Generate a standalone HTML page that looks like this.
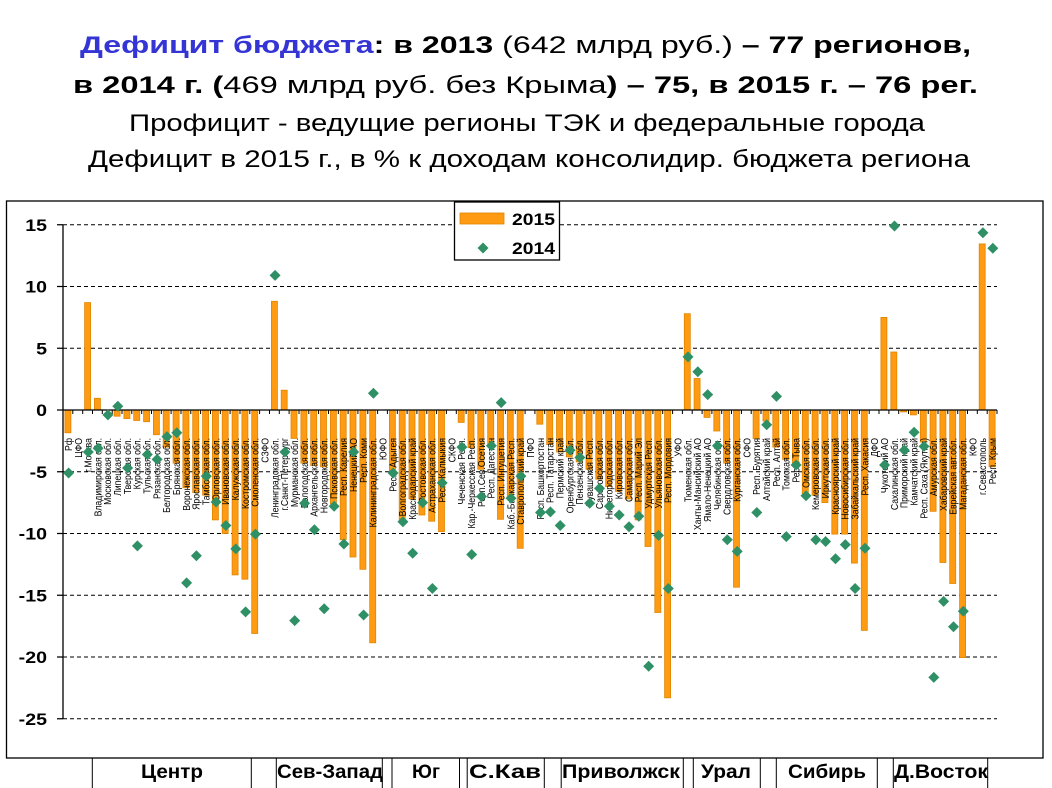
<!DOCTYPE html>
<html><head><meta charset="utf-8"><style>
html,body{margin:0;padding:0;background:#fff}
svg{display:block}
text{font-family:"Liberation Sans",Arial,sans-serif}
</style></head><body>
<svg width="1052" height="788" viewBox="0 0 1052 788" xmlns="http://www.w3.org/2000/svg">
<rect x="0" y="0" width="1052" height="788" fill="#fff"/>
<!-- Title -->
<text x="80" y="53" font-size="24" font-weight="bold" textLength="891" lengthAdjust="spacingAndGlyphs"><tspan fill="#3535D5">Дефицит бюджета</tspan>: в 2013 <tspan font-weight="normal">(642 млрд руб.)</tspan> – 77 регионов,</text>
<text x="73" y="93" font-size="24" font-weight="bold" textLength="905" lengthAdjust="spacingAndGlyphs">в 2014 г. (<tspan font-weight="normal">469 млрд руб. без Крыма</tspan>) – 75, в 2015 г. – 76 рег.</text>
<text x="129" y="131" font-size="24" textLength="796" lengthAdjust="spacingAndGlyphs">Профицит - ведущие регионы ТЭК и федеральные города</text>
<text x="88" y="167" font-size="24" textLength="882" lengthAdjust="spacingAndGlyphs">Дефицит в 2015 г., в % к доходам консолидир. бюджета региона</text>

<!-- Frame -->
<rect x="6.5" y="201" width="1036.5" height="557" fill="none" stroke="#000" stroke-width="1.3"/>

<!-- Gridlines -->
<g stroke="#000" stroke-width="1" stroke-dasharray="4 3">
<path d="M63 224.75H997M63 286.5H997M63 348.25H997M63 471.75H997M63 533.5H997M63 595.25H997M63 657H997M63 718.75H997"/>
</g>
<!-- Y ticks -->
<path d="M57 224.75H63M57 286.5H63M57 348.25H63M57 410H63M57 471.75H63M57 533.5H63M57 595.25H63M57 657H63M57 718.75H63" stroke="#000" stroke-width="1.2"/>
<!-- Y labels -->
<g font-size="17" font-weight="bold" text-anchor="end">
<text x="47" y="230.75" textLength="21.7" lengthAdjust="spacingAndGlyphs">15</text>
<text x="47" y="292.5" textLength="21.7" lengthAdjust="spacingAndGlyphs">10</text>
<text x="47" y="354.25" textLength="10.9" lengthAdjust="spacingAndGlyphs">5</text>
<text x="47" y="416" textLength="10.9" lengthAdjust="spacingAndGlyphs">0</text>
<text x="47" y="477.75" textLength="17.4" lengthAdjust="spacingAndGlyphs">-5</text>
<text x="47" y="539.5" textLength="28.3" lengthAdjust="spacingAndGlyphs">-10</text>
<text x="47" y="601.25" textLength="28.3" lengthAdjust="spacingAndGlyphs">-15</text>
<text x="47" y="663" textLength="28.3" lengthAdjust="spacingAndGlyphs">-20</text>
<text x="47" y="724.75" textLength="28.3" lengthAdjust="spacingAndGlyphs">-25</text>
</g>

<!-- Bars 2015 -->
<g fill="#FF9B12" stroke="#E08600" stroke-width="0.8">
<rect x="64.9" y="410" width="6" height="22.8"/>
<rect x="84.6" y="302.6" width="6" height="107.4"/>
<rect x="94.4" y="398.3" width="6" height="11.7"/>
<rect x="114.1" y="410" width="6" height="6.2"/>
<rect x="123.9" y="410" width="6" height="8.6"/>
<rect x="133.7" y="410" width="6" height="10.5"/>
<rect x="143.6" y="410" width="6" height="11.7"/>
<rect x="153.4" y="410" width="6" height="24.7"/>
<rect x="163.2" y="410" width="6" height="37.1"/>
<rect x="173.1" y="410" width="6" height="53.1"/>
<rect x="182.9" y="410" width="6" height="77.8"/>
<rect x="192.7" y="410" width="6" height="82.7"/>
<rect x="202.6" y="410" width="6" height="85.2"/>
<rect x="212.4" y="410" width="6" height="109.9"/>
<rect x="222.2" y="410" width="6" height="123.5"/>
<rect x="232.1" y="410" width="6" height="164.9"/>
<rect x="241.9" y="410" width="6" height="169.2"/>
<rect x="251.7" y="410" width="6" height="223.5"/>
<rect x="271.4" y="301.3" width="6" height="108.7"/>
<rect x="281.2" y="390.2" width="6" height="19.8"/>
<rect x="291.0" y="410" width="6" height="28.4"/>
<rect x="300.9" y="410" width="6" height="53.1"/>
<rect x="310.7" y="410" width="6" height="55.6"/>
<rect x="320.5" y="410" width="6" height="56.8"/>
<rect x="330.4" y="410" width="6" height="93.9"/>
<rect x="340.2" y="410" width="6" height="129.7"/>
<rect x="350.0" y="410" width="6" height="147.0"/>
<rect x="359.9" y="410" width="6" height="159.3"/>
<rect x="369.7" y="410" width="6" height="232.8"/>
<rect x="389.4" y="410" width="6" height="63.0"/>
<rect x="399.2" y="410" width="6" height="109.9"/>
<rect x="409.0" y="410" width="6" height="88.9"/>
<rect x="418.9" y="410" width="6" height="105.0"/>
<rect x="428.7" y="410" width="6" height="111.2"/>
<rect x="438.5" y="410" width="6" height="121.6"/>
<rect x="458.2" y="410" width="6" height="12.4"/>
<rect x="468.0" y="410" width="6" height="37.7"/>
<rect x="477.8" y="410" width="6" height="59.3"/>
<rect x="487.7" y="410" width="6" height="34.6"/>
<rect x="497.5" y="410" width="6" height="109.3"/>
<rect x="507.3" y="410" width="6" height="88.9"/>
<rect x="517.2" y="410" width="6" height="138.3"/>
<rect x="536.8" y="410" width="6" height="14.2"/>
<rect x="546.7" y="410" width="6" height="34.6"/>
<rect x="556.5" y="410" width="6" height="42.0"/>
<rect x="566.3" y="410" width="6" height="46.9"/>
<rect x="576.2" y="410" width="6" height="51.9"/>
<rect x="586.0" y="410" width="6" height="59.3"/>
<rect x="595.8" y="410" width="6" height="69.2"/>
<rect x="605.7" y="410" width="6" height="76.6"/>
<rect x="615.5" y="410" width="6" height="81.5"/>
<rect x="625.3" y="410" width="6" height="88.9"/>
<rect x="635.1" y="410" width="6" height="109.9"/>
<rect x="645.0" y="410" width="6" height="136.5"/>
<rect x="654.8" y="410" width="6" height="202.5"/>
<rect x="664.6" y="410" width="6" height="287.8"/>
<rect x="684.3" y="313.7" width="6" height="96.3"/>
<rect x="694.1" y="378.5" width="6" height="31.5"/>
<rect x="704.0" y="410" width="6" height="7.4"/>
<rect x="713.8" y="410" width="6" height="21.0"/>
<rect x="723.6" y="410" width="6" height="53.1"/>
<rect x="733.5" y="410" width="6" height="177.2"/>
<rect x="753.1" y="410" width="6" height="28.4"/>
<rect x="763.0" y="410" width="6" height="11.1"/>
<rect x="772.8" y="410" width="6" height="37.1"/>
<rect x="782.6" y="410" width="6" height="49.4"/>
<rect x="792.4" y="410" width="6" height="55.6"/>
<rect x="802.3" y="410" width="6" height="85.2"/>
<rect x="812.1" y="410" width="6" height="85.2"/>
<rect x="821.9" y="410" width="6" height="92.6"/>
<rect x="831.8" y="410" width="6" height="124.1"/>
<rect x="841.6" y="410" width="6" height="124.1"/>
<rect x="851.4" y="410" width="6" height="153.1"/>
<rect x="861.3" y="410" width="6" height="220.4"/>
<rect x="880.9" y="317.4" width="6" height="92.6"/>
<rect x="890.8" y="352.0" width="6" height="58.0"/>
<rect x="900.6" y="410" width="6" height="1.9"/>
<rect x="910.4" y="410" width="6" height="4.9"/>
<rect x="920.3" y="410" width="6" height="32.1"/>
<rect x="930.1" y="410" width="6" height="101.3"/>
<rect x="939.9" y="410" width="6" height="152.5"/>
<rect x="949.7" y="410" width="6" height="173.5"/>
<rect x="959.6" y="410" width="6" height="247.6"/>
<rect x="979.2" y="243.9" width="6" height="166.1"/>
<rect x="989.1" y="410" width="6" height="56.8"/>
</g>

<!-- Axes -->
<path d="M63 225V719" stroke="#000" stroke-width="1.3"/>
<path d="M63 410H997" stroke="#000" stroke-width="1.3"/>
<path stroke="#000" stroke-width="1" d="M63 410v4M72.8 410v4M82.7 410v4M92.5 410v4M102.3 410v4M112.2 410v4M122 410v4M131.8 410v4M141.7 410v4M151.5 410v4M161.3 410v4M171.1 410v4M181 410v4M190.8 410v4M200.6 410v4M210.5 410v4M220.3 410v4M230.1 410v4M240 410v4M249.8 410v4M259.6 410v4M269.5 410v4M279.3 410v4M289.1 410v4M299 410v4M308.8 410v4M318.6 410v4M328.5 410v4M338.3 410v4M348.1 410v4M357.9 410v4M367.8 410v4M377.6 410v4M387.4 410v4M397.3 410v4M407.1 410v4M416.9 410v4M426.8 410v4M436.6 410v4M446.4 410v4M456.3 410v4M466.1 410v4M475.9 410v4M485.8 410v4M495.6 410v4M505.4 410v4M515.3 410v4M525.1 410v4M534.9 410v4M544.7 410v4M554.6 410v4M564.4 410v4M574.2 410v4M584.1 410v4M593.9 410v4M603.7 410v4M613.6 410v4M623.4 410v4M633.2 410v4M643.1 410v4M652.9 410v4M662.7 410v4M672.6 410v4M682.4 410v4M692.2 410v4M702.1 410v4M711.9 410v4M721.7 410v4M731.5 410v4M741.4 410v4M751.2 410v4M761 410v4M770.9 410v4M780.7 410v4M790.5 410v4M800.4 410v4M810.2 410v4M820 410v4M829.9 410v4M839.7 410v4M849.5 410v4M859.4 410v4M869.2 410v4M879 410v4M888.9 410v4M898.7 410v4M908.5 410v4M918.3 410v4M928.2 410v4M938 410v4M947.8 410v4M957.7 410v4M967.5 410v4M977.3 410v4M987.2 410v4M997 410v4"/>

<!-- Category labels -->
<g font-size="8.7" text-anchor="end" fill="#000">
<text transform="translate(71.9 438) scale(1.13 1) rotate(-90)">Рф</text>
<text transform="translate(81.8 438) scale(1.13 1) rotate(-90)">ЦФО</text>
<text transform="translate(91.6 438) scale(1.13 1) rotate(-90)">г.Москва</text>
<text transform="translate(101.4 438) scale(1.13 1) rotate(-90)">Владимирская обл.</text>
<text transform="translate(111.2 438) scale(1.13 1) rotate(-90)">Московская обл.</text>
<text transform="translate(121.1 438) scale(1.13 1) rotate(-90)">Липецкая обл.</text>
<text transform="translate(130.9 438) scale(1.13 1) rotate(-90)">Тверская обл.</text>
<text transform="translate(140.7 438) scale(1.13 1) rotate(-90)">Курская обл.</text>
<text transform="translate(150.6 438) scale(1.13 1) rotate(-90)">Тульская обл.</text>
<text transform="translate(160.4 438) scale(1.13 1) rotate(-90)">Рязанская обл.</text>
<text transform="translate(170.2 438) scale(1.13 1) rotate(-90)">Белгородская обл.</text>
<text transform="translate(180.1 438) scale(1.13 1) rotate(-90)">Брянская обл.</text>
<text transform="translate(189.9 438) scale(1.13 1) rotate(-90)">Воронежская обл.</text>
<text transform="translate(199.7 438) scale(1.13 1) rotate(-90)">Ярославская обл.</text>
<text transform="translate(209.6 438) scale(1.13 1) rotate(-90)">Тамбовская обл.</text>
<text transform="translate(219.4 438) scale(1.13 1) rotate(-90)">Орловская обл.</text>
<text transform="translate(229.2 438) scale(1.13 1) rotate(-90)">Ивановская обл.</text>
<text transform="translate(239.1 438) scale(1.13 1) rotate(-90)">Калужская обл.</text>
<text transform="translate(248.9 438) scale(1.13 1) rotate(-90)">Костромская обл.</text>
<text transform="translate(258.7 438) scale(1.13 1) rotate(-90)">Смоленская обл.</text>
<text transform="translate(268.5 438) scale(1.13 1) rotate(-90)">СЗФО</text>
<text transform="translate(278.4 438) scale(1.13 1) rotate(-90)">Ленинградская обл.</text>
<text transform="translate(288.2 438) scale(1.13 1) rotate(-90)">г.Санкт-Петербург</text>
<text transform="translate(298.0 438) scale(1.13 1) rotate(-90)">Мурманская обл.</text>
<text transform="translate(307.9 438) scale(1.13 1) rotate(-90)">Вологодская обл.</text>
<text transform="translate(317.7 438) scale(1.13 1) rotate(-90)">Архангельская обл.</text>
<text transform="translate(327.5 438) scale(1.13 1) rotate(-90)">Новгородская обл.</text>
<text transform="translate(337.4 438) scale(1.13 1) rotate(-90)">Псковская обл.</text>
<text transform="translate(347.2 438) scale(1.13 1) rotate(-90)">Респ. Карелия</text>
<text transform="translate(357.0 438) scale(1.13 1) rotate(-90)">Ненецкий АО</text>
<text transform="translate(366.9 438) scale(1.13 1) rotate(-90)">Респ. Коми</text>
<text transform="translate(376.7 438) scale(1.13 1) rotate(-90)">Калининградская обл.</text>
<text transform="translate(386.5 438) scale(1.13 1) rotate(-90)">ЮФО</text>
<text transform="translate(396.4 438) scale(1.13 1) rotate(-90)">Респ. Адыгея</text>
<text transform="translate(406.2 438) scale(1.13 1) rotate(-90)">Волгоградская обл.</text>
<text transform="translate(416.0 438) scale(1.13 1) rotate(-90)">Краснодарский край</text>
<text transform="translate(425.9 438) scale(1.13 1) rotate(-90)">Ростовская обл.</text>
<text transform="translate(435.7 438) scale(1.13 1) rotate(-90)">Астраханская обл.</text>
<text transform="translate(445.5 438) scale(1.13 1) rotate(-90)">Респ. Калмыкия</text>
<text transform="translate(455.3 438) scale(1.13 1) rotate(-90)">СКФО</text>
<text transform="translate(465.2 438) scale(1.13 1) rotate(-90)">Чеченская Респ.</text>
<text transform="translate(475.0 438) scale(1.13 1) rotate(-90)">Кар.-Черкесская Респ.</text>
<text transform="translate(484.8 438) scale(1.13 1) rotate(-90)">Респ.Сев.Осетия</text>
<text transform="translate(494.7 438) scale(1.13 1) rotate(-90)">Респ. Дагестан</text>
<text transform="translate(504.5 438) scale(1.13 1) rotate(-90)">Респ. Ингушетия</text>
<text transform="translate(514.3 438) scale(1.13 1) rotate(-90)">Каб.-Балкарская Респ.</text>
<text transform="translate(524.2 438) scale(1.13 1) rotate(-90)">Ставропольский край</text>
<text transform="translate(534.0 438) scale(1.13 1) rotate(-90)">ПФО</text>
<text transform="translate(543.8 438) scale(1.13 1) rotate(-90)">Респ. Башкортостан</text>
<text transform="translate(553.7 438) scale(1.13 1) rotate(-90)">Респ. Татарстан</text>
<text transform="translate(563.5 438) scale(1.13 1) rotate(-90)">Пермский край</text>
<text transform="translate(573.3 438) scale(1.13 1) rotate(-90)">Оренбургская обл.</text>
<text transform="translate(583.2 438) scale(1.13 1) rotate(-90)">Пензенская обл.</text>
<text transform="translate(593.0 438) scale(1.13 1) rotate(-90)">Чувашская Респ.</text>
<text transform="translate(602.8 438) scale(1.13 1) rotate(-90)">Саратовская обл.</text>
<text transform="translate(612.7 438) scale(1.13 1) rotate(-90)">Нижегородская обл.</text>
<text transform="translate(622.5 438) scale(1.13 1) rotate(-90)">Кировская обл.</text>
<text transform="translate(632.3 438) scale(1.13 1) rotate(-90)">Самарская обл.</text>
<text transform="translate(642.1 438) scale(1.13 1) rotate(-90)">Респ. Марий Эл</text>
<text transform="translate(652.0 438) scale(1.13 1) rotate(-90)">Удмуртская Респ.</text>
<text transform="translate(661.8 438) scale(1.13 1) rotate(-90)">Ульяновская обл.</text>
<text transform="translate(671.6 438) scale(1.13 1) rotate(-90)">Респ. Мордовия</text>
<text transform="translate(681.5 438) scale(1.13 1) rotate(-90)">УФО</text>
<text transform="translate(691.3 438) scale(1.13 1) rotate(-90)">Тюменская обл.</text>
<text transform="translate(701.1 438) scale(1.13 1) rotate(-90)">Ханты-Мансийский АО</text>
<text transform="translate(711.0 438) scale(1.13 1) rotate(-90)">Ямало-Ненецкий АО</text>
<text transform="translate(720.8 438) scale(1.13 1) rotate(-90)">Челябинская обл.</text>
<text transform="translate(730.6 438) scale(1.13 1) rotate(-90)">Свердловская обл.</text>
<text transform="translate(740.5 438) scale(1.13 1) rotate(-90)">Курганская обл.</text>
<text transform="translate(750.3 438) scale(1.13 1) rotate(-90)">СФО</text>
<text transform="translate(760.1 438) scale(1.13 1) rotate(-90)">Респ. Бурятия</text>
<text transform="translate(770.0 438) scale(1.13 1) rotate(-90)">Алтайский край</text>
<text transform="translate(779.8 438) scale(1.13 1) rotate(-90)">Респ. Алтай</text>
<text transform="translate(789.6 438) scale(1.13 1) rotate(-90)">Томская обл.</text>
<text transform="translate(799.4 438) scale(1.13 1) rotate(-90)">Респ. Тыва</text>
<text transform="translate(809.3 438) scale(1.13 1) rotate(-90)">Омская обл.</text>
<text transform="translate(819.1 438) scale(1.13 1) rotate(-90)">Кемеровская обл.</text>
<text transform="translate(828.9 438) scale(1.13 1) rotate(-90)">Иркутская обл.</text>
<text transform="translate(838.8 438) scale(1.13 1) rotate(-90)">Красноярский край</text>
<text transform="translate(848.6 438) scale(1.13 1) rotate(-90)">Новосибирская обл.</text>
<text transform="translate(858.4 438) scale(1.13 1) rotate(-90)">Забайкальский край</text>
<text transform="translate(868.3 438) scale(1.13 1) rotate(-90)">Респ. Хакасия</text>
<text transform="translate(878.1 438) scale(1.13 1) rotate(-90)">ДФО</text>
<text transform="translate(887.9 438) scale(1.13 1) rotate(-90)">Чукотский АО</text>
<text transform="translate(897.8 438) scale(1.13 1) rotate(-90)">Сахалинская обл.</text>
<text transform="translate(907.6 438) scale(1.13 1) rotate(-90)">Приморский край</text>
<text transform="translate(917.4 438) scale(1.13 1) rotate(-90)">Камчатский край</text>
<text transform="translate(927.3 438) scale(1.13 1) rotate(-90)">Респ. Саха (Якутия)</text>
<text transform="translate(937.1 438) scale(1.13 1) rotate(-90)">Амурская обл.</text>
<text transform="translate(946.9 438) scale(1.13 1) rotate(-90)">Хабаровский край</text>
<text transform="translate(956.7 438) scale(1.13 1) rotate(-90)">Еврейская авт.обл.</text>
<text transform="translate(966.6 438) scale(1.13 1) rotate(-90)">Магаданская обл.</text>
<text transform="translate(976.4 438) scale(1.13 1) rotate(-90)">КФО</text>
<text transform="translate(986.2 438) scale(1.13 1) rotate(-90)">г.Севастополь</text>
<text transform="translate(996.1 438) scale(1.13 1) rotate(-90)">Респ. Крым</text>
</g>

<!-- Diamonds 2014 -->
<g fill="#2F9066">
<path d="M68.6 467.5l5.5 5.5-5.5 5.5-5.5-5.5z"/>
<path d="M88.3 446.5l5.5 5.5-5.5 5.5-5.5-5.5z"/>
<path d="M98.1 442.8l5.5 5.5-5.5 5.5-5.5-5.5z"/>
<path d="M107.9 409.4l5.5 5.5-5.5 5.5-5.5-5.5z"/>
<path d="M117.8 400.8l5.5 5.5-5.5 5.5-5.5-5.5z"/>
<path d="M127.6 462.5l5.5 5.5-5.5 5.5-5.5-5.5z"/>
<path d="M137.4 540.4l5.5 5.5-5.5 5.5-5.5-5.5z"/>
<path d="M147.3 449.0l5.5 5.5-5.5 5.5-5.5-5.5z"/>
<path d="M157.1 453.9l5.5 5.5-5.5 5.5-5.5-5.5z"/>
<path d="M166.9 431.1l5.5 5.5-5.5 5.5-5.5-5.5z"/>
<path d="M176.8 427.3l5.5 5.5-5.5 5.5-5.5-5.5z"/>
<path d="M186.6 577.4l5.5 5.5-5.5 5.5-5.5-5.5z"/>
<path d="M196.4 550.2l5.5 5.5-5.5 5.5-5.5-5.5z"/>
<path d="M206.3 470.6l5.5 5.5-5.5 5.5-5.5-5.5z"/>
<path d="M216.1 496.5l5.5 5.5-5.5 5.5-5.5-5.5z"/>
<path d="M225.9 520.0l5.5 5.5-5.5 5.5-5.5-5.5z"/>
<path d="M235.8 543.4l5.5 5.5-5.5 5.5-5.5-5.5z"/>
<path d="M245.6 606.4l5.5 5.5-5.5 5.5-5.5-5.5z"/>
<path d="M255.4 528.6l5.5 5.5-5.5 5.5-5.5-5.5z"/>
<path d="M275.1 269.9l5.5 5.5-5.5 5.5-5.5-5.5z"/>
<path d="M284.9 446.5l5.5 5.5-5.5 5.5-5.5-5.5z"/>
<path d="M294.7 615.1l5.5 5.5-5.5 5.5-5.5-5.5z"/>
<path d="M304.6 497.7l5.5 5.5-5.5 5.5-5.5-5.5z"/>
<path d="M314.4 524.3l5.5 5.5-5.5 5.5-5.5-5.5z"/>
<path d="M324.2 603.3l5.5 5.5-5.5 5.5-5.5-5.5z"/>
<path d="M334.1 500.8l5.5 5.5-5.5 5.5-5.5-5.5z"/>
<path d="M343.9 538.5l5.5 5.5-5.5 5.5-5.5-5.5z"/>
<path d="M353.7 446.5l5.5 5.5-5.5 5.5-5.5-5.5z"/>
<path d="M363.6 609.5l5.5 5.5-5.5 5.5-5.5-5.5z"/>
<path d="M373.4 387.8l5.5 5.5-5.5 5.5-5.5-5.5z"/>
<path d="M393.1 467.5l5.5 5.5-5.5 5.5-5.5-5.5z"/>
<path d="M402.9 516.3l5.5 5.5-5.5 5.5-5.5-5.5z"/>
<path d="M412.7 547.8l5.5 5.5-5.5 5.5-5.5-5.5z"/>
<path d="M422.6 497.1l5.5 5.5-5.5 5.5-5.5-5.5z"/>
<path d="M432.4 583.0l5.5 5.5-5.5 5.5-5.5-5.5z"/>
<path d="M442.2 477.4l5.5 5.5-5.5 5.5-5.5-5.5z"/>
<path d="M461.9 441.6l5.5 5.5-5.5 5.5-5.5-5.5z"/>
<path d="M471.7 549.0l5.5 5.5-5.5 5.5-5.5-5.5z"/>
<path d="M481.5 491.0l5.5 5.5-5.5 5.5-5.5-5.5z"/>
<path d="M491.4 440.3l5.5 5.5-5.5 5.5-5.5-5.5z"/>
<path d="M501.2 397.1l5.5 5.5-5.5 5.5-5.5-5.5z"/>
<path d="M511.0 492.8l5.5 5.5-5.5 5.5-5.5-5.5z"/>
<path d="M520.9 470.6l5.5 5.5-5.5 5.5-5.5-5.5z"/>
<path d="M540.5 507.0l5.5 5.5-5.5 5.5-5.5-5.5z"/>
<path d="M550.4 506.4l5.5 5.5-5.5 5.5-5.5-5.5z"/>
<path d="M560.2 520.0l5.5 5.5-5.5 5.5-5.5-5.5z"/>
<path d="M570.0 444.6l5.5 5.5-5.5 5.5-5.5-5.5z"/>
<path d="M579.9 452.0l5.5 5.5-5.5 5.5-5.5-5.5z"/>
<path d="M589.7 497.7l5.5 5.5-5.5 5.5-5.5-5.5z"/>
<path d="M599.5 482.9l5.5 5.5-5.5 5.5-5.5-5.5z"/>
<path d="M609.4 500.8l5.5 5.5-5.5 5.5-5.5-5.5z"/>
<path d="M619.2 509.5l5.5 5.5-5.5 5.5-5.5-5.5z"/>
<path d="M629.0 521.2l5.5 5.5-5.5 5.5-5.5-5.5z"/>
<path d="M638.8 510.7l5.5 5.5-5.5 5.5-5.5-5.5z"/>
<path d="M648.7 660.8l5.5 5.5-5.5 5.5-5.5-5.5z"/>
<path d="M658.5 529.9l5.5 5.5-5.5 5.5-5.5-5.5z"/>
<path d="M668.3 583.0l5.5 5.5-5.5 5.5-5.5-5.5z"/>
<path d="M688.0 351.4l5.5 5.5-5.5 5.5-5.5-5.5z"/>
<path d="M697.8 366.2l5.5 5.5-5.5 5.5-5.5-5.5z"/>
<path d="M707.7 389.1l5.5 5.5-5.5 5.5-5.5-5.5z"/>
<path d="M717.5 440.3l5.5 5.5-5.5 5.5-5.5-5.5z"/>
<path d="M727.3 534.2l5.5 5.5-5.5 5.5-5.5-5.5z"/>
<path d="M737.2 545.9l5.5 5.5-5.5 5.5-5.5-5.5z"/>
<path d="M756.8 507.0l5.5 5.5-5.5 5.5-5.5-5.5z"/>
<path d="M766.7 419.3l5.5 5.5-5.5 5.5-5.5-5.5z"/>
<path d="M776.5 390.9l5.5 5.5-5.5 5.5-5.5-5.5z"/>
<path d="M786.3 531.1l5.5 5.5-5.5 5.5-5.5-5.5z"/>
<path d="M796.1 459.5l5.5 5.5-5.5 5.5-5.5-5.5z"/>
<path d="M806.0 490.3l5.5 5.5-5.5 5.5-5.5-5.5z"/>
<path d="M815.8 534.2l5.5 5.5-5.5 5.5-5.5-5.5z"/>
<path d="M825.6 536.0l5.5 5.5-5.5 5.5-5.5-5.5z"/>
<path d="M835.5 553.3l5.5 5.5-5.5 5.5-5.5-5.5z"/>
<path d="M845.3 539.1l5.5 5.5-5.5 5.5-5.5-5.5z"/>
<path d="M855.1 583.0l5.5 5.5-5.5 5.5-5.5-5.5z"/>
<path d="M865.0 542.8l5.5 5.5-5.5 5.5-5.5-5.5z"/>
<path d="M884.6 459.5l5.5 5.5-5.5 5.5-5.5-5.5z"/>
<path d="M894.5 220.5l5.5 5.5-5.5 5.5-5.5-5.5z"/>
<path d="M904.3 444.6l5.5 5.5-5.5 5.5-5.5-5.5z"/>
<path d="M914.1 426.7l5.5 5.5-5.5 5.5-5.5-5.5z"/>
<path d="M924.0 440.9l5.5 5.5-5.5 5.5-5.5-5.5z"/>
<path d="M933.8 671.9l5.5 5.5-5.5 5.5-5.5-5.5z"/>
<path d="M943.6 595.9l5.5 5.5-5.5 5.5-5.5-5.5z"/>
<path d="M953.5 621.2l5.5 5.5-5.5 5.5-5.5-5.5z"/>
<path d="M963.3 605.8l5.5 5.5-5.5 5.5-5.5-5.5z"/>
<path d="M982.9 227.3l5.5 5.5-5.5 5.5-5.5-5.5z"/>
<path d="M992.8 242.7l5.5 5.5-5.5 5.5-5.5-5.5z"/>
</g>

<!-- Legend -->
<rect x="454.5" y="202" width="105" height="58" fill="#fff" stroke="#000" stroke-width="1.3"/>
<rect x="460" y="213" width="44" height="11" fill="#FF9B12" stroke="#E08600" stroke-width="0.8"/>
<path d="M483 242.5l5.5 5.5-5.5 5.5-5.5-5.5z" fill="#2F9066"/>
<text x="512" y="225" font-size="17" font-weight="bold" textLength="43" lengthAdjust="spacingAndGlyphs">2015</text>
<text x="512" y="254" font-size="17" font-weight="bold" textLength="43" lengthAdjust="spacingAndGlyphs">2014</text>

<!-- Group separators -->
<path stroke="#000" stroke-width="1" d="M92.3 758V788M251.3 758V788M276.3 758V788M382.3 758V788M392 758V788M459.5 758V788M467.2 758V788M544.3 758V788M561.2 758V788M683.3 758V788M693.3 758V788M760.3 758V788M776.3 758V788M877.3 758V788M893.3 758V788M987.7 758V788"/>
<g font-size="19" font-weight="bold">
<text x="141" y="778" textLength="62" lengthAdjust="spacingAndGlyphs">Центр</text>
<text x="277" y="778" textLength="106" lengthAdjust="spacingAndGlyphs">Сев-Запад</text>
<text x="412" y="778" textLength="28" lengthAdjust="spacingAndGlyphs">Юг</text>
<text x="469" y="778" textLength="72" lengthAdjust="spacingAndGlyphs">С.Кав</text>
<text x="562" y="778" textLength="118" lengthAdjust="spacingAndGlyphs">Приволжск</text>
<text x="701" y="778" textLength="50" lengthAdjust="spacingAndGlyphs">Урал</text>
<text x="788" y="778" textLength="78" lengthAdjust="spacingAndGlyphs">Сибирь</text>
<text x="894" y="778" textLength="94" lengthAdjust="spacingAndGlyphs">Д.Восток</text>
</g>
</svg>
</body></html>
